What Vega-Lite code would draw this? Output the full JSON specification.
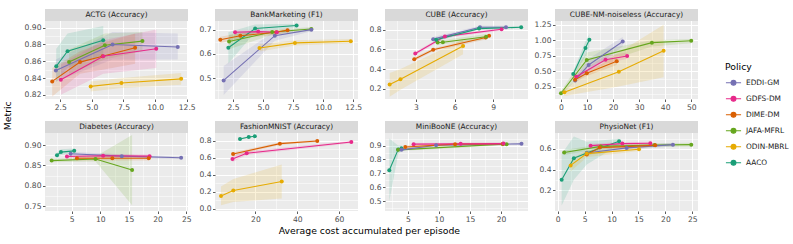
{
"$schema": "https://vega.github.io/schema/vega-lite/v6.json",
"background": "white",
"padding": {"left": 3, "top": 9, "right": 0, "bottom": 0},
"datasets": {"d": [
{"p":"ACTG","s":"AACO","x":2.19,"y":0.854,"lo":0.835,"hi":0.875},
{"p":"ACTG","s":"AACO","x":3.08,"y":0.872,"lo":0.852,"hi":0.893},
{"p":"ACTG","s":"AACO","x":5.9,"y":0.885,"lo":0.868,"hi":0.902},
{"p":"ACTG","s":"JAFA-MFRL","x":3.2,"y":0.859,"lo":0.845,"hi":0.874},
{"p":"ACTG","s":"JAFA-MFRL","x":6.03,"y":0.879,"lo":0.862,"hi":0.893},
{"p":"ACTG","s":"JAFA-MFRL","x":9.0,"y":0.884,"lo":0.872,"hi":0.895},
{"p":"ACTG","s":"EDDI-GM","x":2.16,"y":0.849,"lo":0.836,"hi":0.862},
{"p":"ACTG","s":"EDDI-GM","x":6.64,"y":0.88,"lo":0.862,"hi":0.895},
{"p":"ACTG","s":"EDDI-GM","x":11.79,"y":0.877,"lo":0.862,"hi":0.893},
{"p":"ACTG","s":"DIME-DM","x":1.87,"y":0.836,"lo":0.818,"hi":0.852},
{"p":"ACTG","s":"DIME-DM","x":4.07,"y":0.859,"lo":0.845,"hi":0.872},
{"p":"ACTG","s":"DIME-DM","x":5.85,"y":0.866,"lo":0.85,"hi":0.882},
{"p":"ACTG","s":"DIME-DM","x":8.42,"y":0.876,"lo":0.857,"hi":0.893},
{"p":"ACTG","s":"GDFS-DM","x":2.55,"y":0.838,"lo":0.82,"hi":0.856},
{"p":"ACTG","s":"GDFS-DM","x":5.9,"y":0.866,"lo":0.845,"hi":0.885},
{"p":"ACTG","s":"GDFS-DM","x":10.09,"y":0.875,"lo":0.852,"hi":0.898},
{"p":"ACTG","s":"ODIN-MBRL","x":4.91,"y":0.83,"lo":0.824,"hi":0.836},
{"p":"ACTG","s":"ODIN-MBRL","x":7.34,"y":0.834,"lo":0.828,"hi":0.84},
{"p":"ACTG","s":"ODIN-MBRL","x":12.06,"y":0.839,"lo":0.832,"hi":0.846},
{"p":"Bank","s":"AACO","x":2.11,"y":0.626,"lo":0.56,"hi":0.69},
{"p":"Bank","s":"AACO","x":4.34,"y":0.706,"lo":0.69,"hi":0.722},
{"p":"Bank","s":"AACO","x":7.79,"y":0.718,"lo":0.71,"hi":0.726},
{"p":"Bank","s":"JAFA-MFRL","x":2.17,"y":0.652,"lo":0.62,"hi":0.68},
{"p":"Bank","s":"JAFA-MFRL","x":5.76,"y":0.691,"lo":0.68,"hi":0.7},
{"p":"Bank","s":"JAFA-MFRL","x":9.02,"y":0.704,"lo":0.695,"hi":0.712},
{"p":"Bank","s":"EDDI-GM","x":1.72,"y":0.49,"lo":0.43,"hi":0.55},
{"p":"Bank","s":"EDDI-GM","x":5.98,"y":0.676,"lo":0.655,"hi":0.695},
{"p":"Bank","s":"EDDI-GM","x":9.02,"y":0.701,"lo":0.694,"hi":0.708},
{"p":"Bank","s":"DIME-DM","x":1.44,"y":0.659,"lo":0.645,"hi":0.672},
{"p":"Bank","s":"DIME-DM","x":3.11,"y":0.676,"lo":0.665,"hi":0.687},
{"p":"Bank","s":"DIME-DM","x":6.1,"y":0.69,"lo":0.68,"hi":0.698},
{"p":"Bank","s":"DIME-DM","x":7.04,"y":0.699,"lo":0.69,"hi":0.708},
{"p":"Bank","s":"GDFS-DM","x":2.67,"y":0.69,"lo":0.68,"hi":0.7},
{"p":"Bank","s":"GDFS-DM","x":4.59,"y":0.693,"lo":0.685,"hi":0.701},
{"p":"Bank","s":"GDFS-DM","x":6.15,"y":0.69,"lo":0.682,"hi":0.698},
{"p":"Bank","s":"ODIN-MBRL","x":4.7,"y":0.625,"lo":0.61,"hi":0.64},
{"p":"Bank","s":"ODIN-MBRL","x":7.65,"y":0.646,"lo":0.635,"hi":0.657},
{"p":"Bank","s":"ODIN-MBRL","x":12.3,"y":0.653,"lo":0.645,"hi":0.662},
{"p":"CUBE","s":"ODIN-MBRL","x":0.96,"y":0.242,"lo":0.12,"hi":0.36},
{"p":"CUBE","s":"ODIN-MBRL","x":1.8,"y":0.297,"lo":0.19,"hi":0.4},
{"p":"CUBE","s":"ODIN-MBRL","x":6.66,"y":0.634,"lo":0.55,"hi":0.7},
{"p":"CUBE","s":"DIME-DM","x":2.87,"y":0.498,"lo":0.48,"hi":0.52},
{"p":"CUBE","s":"DIME-DM","x":4.34,"y":0.595,"lo":0.58,"hi":0.61},
{"p":"CUBE","s":"DIME-DM","x":8.42,"y":0.72,"lo":0.7,"hi":0.74},
{"p":"CUBE","s":"DIME-DM","x":8.68,"y":0.738,"lo":0.72,"hi":0.755},
{"p":"CUBE","s":"GDFS-DM","x":2.95,"y":0.557,"lo":0.54,"hi":0.575},
{"p":"CUBE","s":"GDFS-DM","x":5.25,"y":0.731,"lo":0.715,"hi":0.745},
{"p":"CUBE","s":"GDFS-DM","x":9.65,"y":0.803,"lo":0.79,"hi":0.815},
{"p":"CUBE","s":"EDDI-GM","x":4.34,"y":0.703,"lo":0.68,"hi":0.725},
{"p":"CUBE","s":"EDDI-GM","x":7.97,"y":0.824,"lo":0.81,"hi":0.838},
{"p":"CUBE","s":"EDDI-GM","x":9.99,"y":0.824,"lo":0.81,"hi":0.838},
{"p":"CUBE","s":"JAFA-MFRL","x":4.68,"y":0.668,"lo":0.64,"hi":0.695},
{"p":"CUBE","s":"JAFA-MFRL","x":5.09,"y":0.672,"lo":0.65,"hi":0.695},
{"p":"CUBE","s":"JAFA-MFRL","x":8.45,"y":0.727,"lo":0.7,"hi":0.755},
{"p":"CUBE","s":"AACO","x":4.57,"y":0.696,"lo":0.68,"hi":0.71},
{"p":"CUBE","s":"AACO","x":7.9,"y":0.81,"lo":0.8,"hi":0.825},
{"p":"CUBE","s":"AACO","x":11.17,"y":0.824,"lo":0.815,"hi":0.835},
{"p":"CUBENM","s":"AACO","x":4.7,"y":0.454,"lo":0.4,"hi":0.5},
{"p":"CUBENM","s":"AACO","x":9.4,"y":0.874,"lo":0.75,"hi":0.98},
{"p":"CUBENM","s":"AACO","x":10.9,"y":1.008,"lo":0.88,"hi":1.1},
{"p":"CUBENM","s":"JAFA-MFRL","x":0.0,"y":0.143,"lo":0.1,"hi":0.18},
{"p":"CUBENM","s":"JAFA-MFRL","x":9.9,"y":0.68,"lo":0.55,"hi":0.8},
{"p":"CUBENM","s":"JAFA-MFRL","x":34.9,"y":0.96,"lo":0.9,"hi":1.0},
{"p":"CUBENM","s":"JAFA-MFRL","x":50,"y":0.99,"lo":0.95,"hi":1.02},
{"p":"CUBENM","s":"EDDI-GM","x":5.4,"y":0.347,"lo":0.3,"hi":0.4},
{"p":"CUBENM","s":"EDDI-GM","x":10.6,"y":0.6,"lo":0.5,"hi":0.7},
{"p":"CUBENM","s":"EDDI-GM","x":23.7,"y":0.98,"lo":0.9,"hi":1.05},
{"p":"CUBENM","s":"GDFS-DM","x":5.8,"y":0.41,"lo":0.37,"hi":0.45},
{"p":"CUBENM","s":"GDFS-DM","x":17.1,"y":0.685,"lo":0.62,"hi":0.75},
{"p":"CUBENM","s":"GDFS-DM","x":25.4,"y":0.745,"lo":0.7,"hi":0.8},
{"p":"CUBENM","s":"DIME-DM","x":5.4,"y":0.36,"lo":0.32,"hi":0.4},
{"p":"CUBENM","s":"DIME-DM","x":9.9,"y":0.465,"lo":0.42,"hi":0.52},
{"p":"CUBENM","s":"DIME-DM","x":21.4,"y":0.66,"lo":0.6,"hi":0.72},
{"p":"CUBENM","s":"ODIN-MBRL","x":1.3,"y":0.159,"lo":0.1,"hi":0.22},
{"p":"CUBENM","s":"ODIN-MBRL","x":22.2,"y":0.49,"lo":0.25,"hi":0.8},
{"p":"CUBENM","s":"ODIN-MBRL","x":39.4,"y":0.83,"lo":0.4,"hi":1.25},
{"p":"Diab","s":"AACO","x":2.45,"y":0.875,"lo":0.868,"hi":0.882},
{"p":"Diab","s":"AACO","x":3.14,"y":0.883,"lo":0.876,"hi":0.89},
{"p":"Diab","s":"AACO","x":5.46,"y":0.886,"lo":0.88,"hi":0.892},
{"p":"Diab","s":"JAFA-MFRL","x":1.52,"y":0.862,"lo":0.858,"hi":0.866},
{"p":"Diab","s":"JAFA-MFRL","x":9.17,"y":0.866,"lo":0.86,"hi":0.872},
{"p":"Diab","s":"JAFA-MFRL","x":15.55,"y":0.839,"lo":0.752,"hi":0.925},
{"p":"Diab","s":"EDDI-GM","x":4.83,"y":0.879,"lo":0.874,"hi":0.884},
{"p":"Diab","s":"EDDI-GM","x":13.75,"y":0.873,"lo":0.869,"hi":0.877},
{"p":"Diab","s":"EDDI-GM","x":24.1,"y":0.869,"lo":0.866,"hi":0.872},
{"p":"Diab","s":"GDFS-DM","x":4.19,"y":0.872,"lo":0.868,"hi":0.876},
{"p":"Diab","s":"GDFS-DM","x":10.5,"y":0.874,"lo":0.869,"hi":0.879},
{"p":"Diab","s":"GDFS-DM","x":18.6,"y":0.873,"lo":0.869,"hi":0.877},
{"p":"Diab","s":"DIME-DM","x":5.93,"y":0.868,"lo":0.862,"hi":0.874},
{"p":"Diab","s":"DIME-DM","x":12.1,"y":0.868,"lo":0.862,"hi":0.874},
{"p":"Diab","s":"DIME-DM","x":18.45,"y":0.868,"lo":0.862,"hi":0.874},
{"p":"Fash","s":"AACO","x":12.6,"y":0.82,"lo":0.81,"hi":0.83},
{"p":"Fash","s":"AACO","x":16.8,"y":0.843,"lo":0.835,"hi":0.85},
{"p":"Fash","s":"AACO","x":19.7,"y":0.851,"lo":0.845,"hi":0.857},
{"p":"Fash","s":"DIME-DM","x":9.3,"y":0.644,"lo":0.62,"hi":0.665},
{"p":"Fash","s":"DIME-DM","x":31.7,"y":0.765,"lo":0.75,"hi":0.78},
{"p":"Fash","s":"DIME-DM","x":49.6,"y":0.796,"lo":0.785,"hi":0.807},
{"p":"Fash","s":"GDFS-DM","x":9.0,"y":0.585,"lo":0.55,"hi":0.62},
{"p":"Fash","s":"GDFS-DM","x":15.8,"y":0.652,"lo":0.63,"hi":0.675},
{"p":"Fash","s":"GDFS-DM","x":65.9,"y":0.784,"lo":0.77,"hi":0.8},
{"p":"Fash","s":"ODIN-MBRL","x":3.5,"y":0.148,"lo":0.04,"hi":0.26},
{"p":"Fash","s":"ODIN-MBRL","x":9.4,"y":0.215,"lo":0.08,"hi":0.35},
{"p":"Fash","s":"ODIN-MBRL","x":32.6,"y":0.32,"lo":0.12,"hi":0.52},
{"p":"Mini","s":"AACO","x":2.0,"y":0.722,"lo":0.5,"hi":0.95},
{"p":"Mini","s":"AACO","x":3.43,"y":0.871,"lo":0.84,"hi":0.9},
{"p":"Mini","s":"AACO","x":3.97,"y":0.88,"lo":0.86,"hi":0.9},
{"p":"Mini","s":"JAFA-MFRL","x":3.43,"y":0.869,"lo":0.86,"hi":0.88},
{"p":"Mini","s":"JAFA-MFRL","x":20.3,"y":0.91,"lo":0.9,"hi":0.92},
{"p":"Mini","s":"JAFA-MFRL","x":20.9,"y":0.91,"lo":0.9,"hi":0.92},
{"p":"Mini","s":"EDDI-GM","x":3.97,"y":0.869,"lo":0.86,"hi":0.88},
{"p":"Mini","s":"EDDI-GM","x":9.55,"y":0.902,"lo":0.895,"hi":0.91},
{"p":"Mini","s":"EDDI-GM","x":23.3,"y":0.912,"lo":0.905,"hi":0.92},
{"p":"Mini","s":"DIME-DM","x":4.57,"y":0.89,"lo":0.88,"hi":0.9},
{"p":"Mini","s":"DIME-DM","x":12.6,"y":0.91,"lo":0.9,"hi":0.92},
{"p":"Mini","s":"DIME-DM","x":20.3,"y":0.912,"lo":0.905,"hi":0.92},
{"p":"Mini","s":"GDFS-DM","x":5.92,"y":0.91,"lo":0.9,"hi":0.92},
{"p":"Mini","s":"GDFS-DM","x":13.5,"y":0.912,"lo":0.905,"hi":0.92},
{"p":"Mini","s":"GDFS-DM","x":20.4,"y":0.914,"lo":0.905,"hi":0.922},
{"p":"Phys","s":"AACO","x":0.74,"y":0.3,"lo":0.05,"hi":0.55},
{"p":"Phys","s":"AACO","x":3.0,"y":0.51,"lo":0.3,"hi":0.72},
{"p":"Phys","s":"AACO","x":5.4,"y":0.56,"lo":0.45,"hi":0.67},
{"p":"Phys","s":"AACO","x":11.4,"y":0.674,"lo":0.64,"hi":0.7},
{"p":"Phys","s":"JAFA-MFRL","x":1.2,"y":0.565,"lo":0.54,"hi":0.59},
{"p":"Phys","s":"JAFA-MFRL","x":8.0,"y":0.625,"lo":0.605,"hi":0.645},
{"p":"Phys","s":"JAFA-MFRL","x":18.0,"y":0.638,"lo":0.62,"hi":0.655},
{"p":"Phys","s":"JAFA-MFRL","x":24.8,"y":0.642,"lo":0.625,"hi":0.66},
{"p":"Phys","s":"GDFS-DM","x":6.1,"y":0.632,"lo":0.615,"hi":0.65},
{"p":"Phys","s":"GDFS-DM","x":12.0,"y":0.652,"lo":0.635,"hi":0.668},
{"p":"Phys","s":"GDFS-DM","x":17.2,"y":0.655,"lo":0.64,"hi":0.67},
{"p":"Phys","s":"EDDI-GM","x":5.4,"y":0.56,"lo":0.54,"hi":0.58},
{"p":"Phys","s":"EDDI-GM","x":12.8,"y":0.61,"lo":0.59,"hi":0.63},
{"p":"Phys","s":"EDDI-GM","x":21.4,"y":0.642,"lo":0.625,"hi":0.66},
{"p":"Phys","s":"DIME-DM","x":5.4,"y":0.545,"lo":0.525,"hi":0.565},
{"p":"Phys","s":"DIME-DM","x":7.8,"y":0.613,"lo":0.595,"hi":0.63},
{"p":"Phys","s":"DIME-DM","x":18.1,"y":0.635,"lo":0.62,"hi":0.65},
{"p":"Phys","s":"ODIN-MBRL","x":2.4,"y":0.44,"lo":0.38,"hi":0.5},
{"p":"Phys","s":"ODIN-MBRL","x":5.4,"y":0.555,"lo":0.52,"hi":0.59},
{"p":"Phys","s":"ODIN-MBRL","x":15.1,"y":0.597,"lo":0.58,"hi":0.615}
]},
"title": {"text": "Average cost accumulated per episode", "orient": "bottom", "anchor": "middle", "dx": -27, "offset": 4},
"vconcat": [{
"title": {"text": "Metric", "orient": "left", "anchor": "middle", "offset": 11},
"columns": 4,
"bounds": "flush",
"spacing": {"row": 22, "column": 27},
"concat": [
{"width": 143, "height": 90, "resolve": {"axis": {"x": "independent", "y": "independent"}}, "layer": [
 {"data": {"name": "d"}, "transform": [{"filter": "datum.p === 'ACTG'"}],
  "encoding": {
   "x": {"field": "x", "type": "quantitative", "title": null, "scale": {"domain": [1.3, 12.6], "nice": false, "zero": false}, "axis": {"values": [2.5, 5, 7.5, 10, 12.5], "format": ".1f", "labelOverlap": false}},
   "y": {"field": "y", "type": "quantitative", "title": null, "scale": {"domain": [0.815, 0.9223], "nice": false, "zero": false}, "axis": {"values": [0.82, 0.84, 0.86, 0.88, 0.9], "format": ".2f", "labelOverlap": false}},
   "color": {"field": "s", "type": "nominal", "title": "Policy", "scale": {"domain": ["EDDI-GM","GDFS-DM","DIME-DM","JAFA-MFRL","ODIN-MBRL","AACO"], "range": ["#7570B3","#E7298A","#D95F02","#66A61E","#E6AB02","#1B9E77"]}, "legend": {"orient": "none", "legendX": 680, "legendY": 54, "symbolType": "M-1,0H1M-0.32,0A0.32,0.32,0,1,0,0.32,0A0.32,0.32,0,1,0,-0.32,0", "encode": {"symbols": {"update": {"fill": {"scale": "color", "field": "value"}, "stroke": {"scale": "color", "field": "value"}, "opacity": {"value": 1}, "fillOpacity": {"value": 1}}}}}}
  },
  "layer": [
   {"mark": {"type": "area", "opacity": 0.15}, "encoding": {"y": {"field": "lo", "type": "quantitative", "title": null, "scale": {"domain": [0.815, 0.9223], "nice": false, "zero": false}, "axis": {"values": [0.82, 0.84, 0.86, 0.88, 0.9], "format": ".2f", "labelOverlap": false}}, "y2": {"field": "hi"}}},
   {"mark": {"type": "line", "strokeWidth": 1.1}},
   {"mark": {"type": "point", "filled": true, "size": 16, "opacity": 1}}
  ]},
 {"data": {"name": "d"}, "transform": [{"filter": "datum.p === 'ACTG'"}], "mark": {"type": "point", "opacity": 0},
  "encoding": {
   "x": {"field": "x", "type": "quantitative", "title": null, "axis": {"values": [3.75, 6.25, 8.75, 11.25], "grid": true, "gridWidth": 0.5, "labels": false, "ticks": false, "domain": false}},
   "y": {"field": "y", "type": "quantitative", "title": null, "axis": {"values": [0.83, 0.85, 0.87, 0.89], "grid": true, "gridWidth": 0.5, "labels": false, "ticks": false, "domain": false}}}},
 {"data": {"values": [{"t": "ACTG (Accuracy)"}]}, "mark": {"type": "rect", "fill": "#D9D9D9"}, "encoding": {"y": {"datum": 0.908, "axis": null}, "y2": {"datum": 0.9223}}},
 {"data": {"values": [{"t": "ACTG (Accuracy)"}]}, "mark": {"type": "text", "fontSize": 7.4, "color": "#1A1A1A", "baseline": "middle"}, "encoding": {"text": {"field": "t"}, "y": {"datum": 0.9152, "axis": null}}}
]},
{"width": 143, "height": 90, "resolve": {"axis": {"x": "independent", "y": "independent"}}, "layer": [
 {"data": {"name": "d"}, "transform": [{"filter": "datum.p === 'Bank'"}],
  "encoding": {
   "x": {"field": "x", "type": "quantitative", "title": null, "scale": {"domain": [1.0, 12.9], "nice": false, "zero": false}, "axis": {"values": [2.5, 5, 7.5, 10, 12.5], "format": ".1f", "labelOverlap": false}},
   "y": {"field": "y", "type": "quantitative", "title": null, "scale": {"domain": [0.413, 0.7868], "nice": false, "zero": false}, "axis": {"values": [0.5, 0.6, 0.7], "format": ".1f", "labelOverlap": false}},
   "color": {"field": "s", "type": "nominal", "title": "Policy", "scale": {"domain": ["EDDI-GM","GDFS-DM","DIME-DM","JAFA-MFRL","ODIN-MBRL","AACO"], "range": ["#7570B3","#E7298A","#D95F02","#66A61E","#E6AB02","#1B9E77"]}, "legend": {"orient": "none", "legendX": 680, "legendY": 54, "symbolType": "M-1,0H1M-0.32,0A0.32,0.32,0,1,0,0.32,0A0.32,0.32,0,1,0,-0.32,0", "encode": {"symbols": {"update": {"fill": {"scale": "color", "field": "value"}, "stroke": {"scale": "color", "field": "value"}, "opacity": {"value": 1}, "fillOpacity": {"value": 1}}}}}}
  },
  "layer": [
   {"mark": {"type": "area", "opacity": 0.15}, "encoding": {"y": {"field": "lo", "type": "quantitative", "title": null, "scale": {"domain": [0.413, 0.7868], "nice": false, "zero": false}, "axis": {"values": [0.5, 0.6, 0.7], "format": ".1f", "labelOverlap": false}}, "y2": {"field": "hi"}}},
   {"mark": {"type": "line", "strokeWidth": 1.1}},
   {"mark": {"type": "point", "filled": true, "size": 16, "opacity": 1}}
  ]},
 {"data": {"name": "d"}, "transform": [{"filter": "datum.p === 'Bank'"}], "mark": {"type": "point", "opacity": 0},
  "encoding": {
   "x": {"field": "x", "type": "quantitative", "title": null, "axis": {"values": [1.25, 3.75, 6.25, 8.75, 11.25], "grid": true, "gridWidth": 0.5, "labels": false, "ticks": false, "domain": false}},
   "y": {"field": "y", "type": "quantitative", "title": null, "axis": {"values": [0.45, 0.55, 0.65], "grid": true, "gridWidth": 0.5, "labels": false, "ticks": false, "domain": false}}}},
 {"data": {"values": [{"t": "BankMarketing (F1)"}]}, "mark": {"type": "rect", "fill": "#D9D9D9"}, "encoding": {"y": {"datum": 0.737, "axis": null}, "y2": {"datum": 0.7868}}},
 {"data": {"values": [{"t": "BankMarketing (F1)"}]}, "mark": {"type": "text", "fontSize": 7.4, "color": "#1A1A1A", "baseline": "middle"}, "encoding": {"text": {"field": "t"}, "y": {"datum": 0.7619, "axis": null}}}
]},
{"width": 143, "height": 90, "resolve": {"axis": {"x": "independent", "y": "independent"}}, "layer": [
 {"data": {"name": "d"}, "transform": [{"filter": "datum.p === 'CUBE'"}],
  "encoding": {
   "x": {"field": "x", "type": "quantitative", "title": null, "scale": {"domain": [0.6, 11.7], "nice": false, "zero": false}, "axis": {"values": [3, 6, 9], "format": "d", "labelOverlap": false}},
   "y": {"field": "y", "type": "quantitative", "title": null, "scale": {"domain": [0.096, 1.0087], "nice": false, "zero": false}, "axis": {"values": [0.2, 0.4, 0.6, 0.8], "format": ".1f", "labelOverlap": false}},
   "color": {"field": "s", "type": "nominal", "title": "Policy", "scale": {"domain": ["EDDI-GM","GDFS-DM","DIME-DM","JAFA-MFRL","ODIN-MBRL","AACO"], "range": ["#7570B3","#E7298A","#D95F02","#66A61E","#E6AB02","#1B9E77"]}, "legend": {"orient": "none", "legendX": 680, "legendY": 54, "symbolType": "M-1,0H1M-0.32,0A0.32,0.32,0,1,0,0.32,0A0.32,0.32,0,1,0,-0.32,0", "encode": {"symbols": {"update": {"fill": {"scale": "color", "field": "value"}, "stroke": {"scale": "color", "field": "value"}, "opacity": {"value": 1}, "fillOpacity": {"value": 1}}}}}}
  },
  "layer": [
   {"mark": {"type": "area", "opacity": 0.15}, "encoding": {"y": {"field": "lo", "type": "quantitative", "title": null, "scale": {"domain": [0.096, 1.0087], "nice": false, "zero": false}, "axis": {"values": [0.2, 0.4, 0.6, 0.8], "format": ".1f", "labelOverlap": false}}, "y2": {"field": "hi"}}},
   {"mark": {"type": "line", "strokeWidth": 1.1}},
   {"mark": {"type": "point", "filled": true, "size": 16, "opacity": 1}}
  ]},
 {"data": {"name": "d"}, "transform": [{"filter": "datum.p === 'CUBE'"}], "mark": {"type": "point", "opacity": 0},
  "encoding": {
   "x": {"field": "x", "type": "quantitative", "title": null, "axis": {"values": [1.5, 4.5, 7.5, 10.5], "grid": true, "gridWidth": 0.5, "labels": false, "ticks": false, "domain": false}},
   "y": {"field": "y", "type": "quantitative", "title": null, "axis": {"values": [0.1, 0.3, 0.5, 0.7], "grid": true, "gridWidth": 0.5, "labels": false, "ticks": false, "domain": false}}}},
 {"data": {"values": [{"t": "CUBE (Accuracy)"}]}, "mark": {"type": "rect", "fill": "#D9D9D9"}, "encoding": {"y": {"datum": 0.887, "axis": null}, "y2": {"datum": 1.0087}}},
 {"data": {"values": [{"t": "CUBE (Accuracy)"}]}, "mark": {"type": "text", "fontSize": 7.4, "color": "#1A1A1A", "baseline": "middle"}, "encoding": {"text": {"field": "t"}, "y": {"datum": 0.9478, "axis": null}}}
]},
{"width": 143, "height": 90, "resolve": {"axis": {"x": "independent", "y": "independent"}}, "layer": [
 {"data": {"name": "d"}, "transform": [{"filter": "datum.p === 'CUBENM'"}],
  "encoding": {
   "x": {"field": "x", "type": "quantitative", "title": null, "scale": {"domain": [-2.3, 52.6], "nice": false, "zero": false}, "axis": {"values": [0, 10, 20, 30, 40, 50], "format": "d", "labelOverlap": false}},
   "y": {"field": "y", "type": "quantitative", "title": null, "scale": {"domain": [0.05, 1.5038], "nice": false, "zero": false}, "axis": {"values": [0.25, 0.5, 0.75, 1.0, 1.25], "format": ".2f", "labelOverlap": false}},
   "color": {"field": "s", "type": "nominal", "title": "Policy", "scale": {"domain": ["EDDI-GM","GDFS-DM","DIME-DM","JAFA-MFRL","ODIN-MBRL","AACO"], "range": ["#7570B3","#E7298A","#D95F02","#66A61E","#E6AB02","#1B9E77"]}, "legend": {"orient": "none", "legendX": 680, "legendY": 54, "symbolType": "M-1,0H1M-0.32,0A0.32,0.32,0,1,0,0.32,0A0.32,0.32,0,1,0,-0.32,0", "encode": {"symbols": {"update": {"fill": {"scale": "color", "field": "value"}, "stroke": {"scale": "color", "field": "value"}, "opacity": {"value": 1}, "fillOpacity": {"value": 1}}}}}}
  },
  "layer": [
   {"mark": {"type": "area", "opacity": 0.15}, "encoding": {"y": {"field": "lo", "type": "quantitative", "title": null, "scale": {"domain": [0.05, 1.5038], "nice": false, "zero": false}, "axis": {"values": [0.25, 0.5, 0.75, 1.0, 1.25], "format": ".2f", "labelOverlap": false}}, "y2": {"field": "hi"}}},
   {"mark": {"type": "line", "strokeWidth": 1.1}},
   {"mark": {"type": "point", "filled": true, "size": 16, "opacity": 1}}
  ]},
 {"data": {"name": "d"}, "transform": [{"filter": "datum.p === 'CUBENM'"}], "mark": {"type": "point", "opacity": 0},
  "encoding": {
   "x": {"field": "x", "type": "quantitative", "title": null, "axis": {"values": [5, 15, 25, 35, 45], "grid": true, "gridWidth": 0.5, "labels": false, "ticks": false, "domain": false}},
   "y": {"field": "y", "type": "quantitative", "title": null, "axis": {"values": [0.125, 0.375, 0.625, 0.875, 1.125], "grid": true, "gridWidth": 0.5, "labels": false, "ticks": false, "domain": false}}}},
 {"data": {"values": [{"t": "CUBE-NM-noiseless (Accuracy)"}]}, "mark": {"type": "rect", "fill": "#D9D9D9"}, "encoding": {"y": {"datum": 1.31, "axis": null}, "y2": {"datum": 1.5038}}},
 {"data": {"values": [{"t": "CUBE-NM-noiseless (Accuracy)"}]}, "mark": {"type": "text", "fontSize": 7.4, "color": "#1A1A1A", "baseline": "middle"}, "encoding": {"text": {"field": "t"}, "y": {"datum": 1.4069, "axis": null}}}
]},
{"width": 143, "height": 90, "resolve": {"axis": {"x": "independent", "y": "independent"}}, "layer": [
 {"data": {"name": "d"}, "transform": [{"filter": "datum.p === 'Diab'"}],
  "encoding": {
   "x": {"field": "x", "type": "quantitative", "title": null, "scale": {"domain": [0.36, 25.3], "nice": false, "zero": false}, "axis": {"values": [5, 10, 15, 20, 25], "format": "d", "labelOverlap": false}},
   "y": {"field": "y", "type": "quantitative", "title": null, "scale": {"domain": [0.738, 0.9595], "nice": false, "zero": false}, "axis": {"values": [0.75, 0.8, 0.85, 0.9], "format": ".2f", "labelOverlap": false}},
   "color": {"field": "s", "type": "nominal", "title": "Policy", "scale": {"domain": ["EDDI-GM","GDFS-DM","DIME-DM","JAFA-MFRL","ODIN-MBRL","AACO"], "range": ["#7570B3","#E7298A","#D95F02","#66A61E","#E6AB02","#1B9E77"]}, "legend": {"orient": "none", "legendX": 680, "legendY": 54, "symbolType": "M-1,0H1M-0.32,0A0.32,0.32,0,1,0,0.32,0A0.32,0.32,0,1,0,-0.32,0", "encode": {"symbols": {"update": {"fill": {"scale": "color", "field": "value"}, "stroke": {"scale": "color", "field": "value"}, "opacity": {"value": 1}, "fillOpacity": {"value": 1}}}}}}
  },
  "layer": [
   {"mark": {"type": "area", "opacity": 0.15}, "encoding": {"y": {"field": "lo", "type": "quantitative", "title": null, "scale": {"domain": [0.738, 0.9595], "nice": false, "zero": false}, "axis": {"values": [0.75, 0.8, 0.85, 0.9], "format": ".2f", "labelOverlap": false}}, "y2": {"field": "hi"}}},
   {"mark": {"type": "line", "strokeWidth": 1.1}},
   {"mark": {"type": "point", "filled": true, "size": 16, "opacity": 1}}
  ]},
 {"data": {"name": "d"}, "transform": [{"filter": "datum.p === 'Diab'"}], "mark": {"type": "point", "opacity": 0},
  "encoding": {
   "x": {"field": "x", "type": "quantitative", "title": null, "axis": {"values": [2.5, 7.5, 12.5, 17.5, 22.5], "grid": true, "gridWidth": 0.5, "labels": false, "ticks": false, "domain": false}},
   "y": {"field": "y", "type": "quantitative", "title": null, "axis": {"values": [0.775, 0.825, 0.875], "grid": true, "gridWidth": 0.5, "labels": false, "ticks": false, "domain": false}}}},
 {"data": {"values": [{"t": "Diabetes (Accuracy)"}]}, "mark": {"type": "rect", "fill": "#D9D9D9"}, "encoding": {"y": {"datum": 0.93, "axis": null}, "y2": {"datum": 0.9595}}},
 {"data": {"values": [{"t": "Diabetes (Accuracy)"}]}, "mark": {"type": "text", "fontSize": 7.4, "color": "#1A1A1A", "baseline": "middle"}, "encoding": {"text": {"field": "t"}, "y": {"datum": 0.9448, "axis": null}}}
]},
{"width": 143, "height": 90, "resolve": {"axis": {"x": "independent", "y": "independent"}}, "layer": [
 {"data": {"name": "d"}, "transform": [{"filter": "datum.p === 'Fash'"}],
  "encoding": {
   "x": {"field": "x", "type": "quantitative", "title": null, "scale": {"domain": [0.64, 69.1], "nice": false, "zero": false}, "axis": {"values": [20, 40, 60], "format": "d", "labelOverlap": false}},
   "y": {"field": "y", "type": "quantitative", "title": null, "scale": {"domain": [-0.027, 1.0311], "nice": false, "zero": false}, "axis": {"values": [0, 0.2, 0.4, 0.6, 0.8], "format": ".1f", "labelOverlap": false}},
   "color": {"field": "s", "type": "nominal", "title": "Policy", "scale": {"domain": ["EDDI-GM","GDFS-DM","DIME-DM","JAFA-MFRL","ODIN-MBRL","AACO"], "range": ["#7570B3","#E7298A","#D95F02","#66A61E","#E6AB02","#1B9E77"]}, "legend": {"orient": "none", "legendX": 680, "legendY": 54, "symbolType": "M-1,0H1M-0.32,0A0.32,0.32,0,1,0,0.32,0A0.32,0.32,0,1,0,-0.32,0", "encode": {"symbols": {"update": {"fill": {"scale": "color", "field": "value"}, "stroke": {"scale": "color", "field": "value"}, "opacity": {"value": 1}, "fillOpacity": {"value": 1}}}}}}
  },
  "layer": [
   {"mark": {"type": "area", "opacity": 0.15}, "encoding": {"y": {"field": "lo", "type": "quantitative", "title": null, "scale": {"domain": [-0.027, 1.0311], "nice": false, "zero": false}, "axis": {"values": [0, 0.2, 0.4, 0.6, 0.8], "format": ".1f", "labelOverlap": false}}, "y2": {"field": "hi"}}},
   {"mark": {"type": "line", "strokeWidth": 1.1}},
   {"mark": {"type": "point", "filled": true, "size": 16, "opacity": 1}}
  ]},
 {"data": {"name": "d"}, "transform": [{"filter": "datum.p === 'Fash'"}], "mark": {"type": "point", "opacity": 0},
  "encoding": {
   "x": {"field": "x", "type": "quantitative", "title": null, "axis": {"values": [10, 30, 50], "grid": true, "gridWidth": 0.5, "labels": false, "ticks": false, "domain": false}},
   "y": {"field": "y", "type": "quantitative", "title": null, "axis": {"values": [0.1, 0.3, 0.5, 0.7], "grid": true, "gridWidth": 0.5, "labels": false, "ticks": false, "domain": false}}}},
 {"data": {"values": [{"t": "FashionMNIST (Accuracy)"}]}, "mark": {"type": "rect", "fill": "#D9D9D9"}, "encoding": {"y": {"datum": 0.89, "axis": null}, "y2": {"datum": 1.0311}}},
 {"data": {"values": [{"t": "FashionMNIST (Accuracy)"}]}, "mark": {"type": "text", "fontSize": 7.4, "color": "#1A1A1A", "baseline": "middle"}, "encoding": {"text": {"field": "t"}, "y": {"datum": 0.9606, "axis": null}}}
]},
{"width": 143, "height": 90, "resolve": {"axis": {"x": "independent", "y": "independent"}}, "layer": [
 {"data": {"name": "d"}, "transform": [{"filter": "datum.p === 'Mini'"}],
  "encoding": {
   "x": {"field": "x", "type": "quantitative", "title": null, "scale": {"domain": [1.31, 24.35], "nice": false, "zero": false}, "axis": {"values": [5, 10, 15, 20], "format": "d", "labelOverlap": false}},
   "y": {"field": "y", "type": "quantitative", "title": null, "scale": {"domain": [0.43, 1.0762], "nice": false, "zero": false}, "axis": {"values": [0.5, 0.6, 0.7, 0.8, 0.9], "format": ".1f", "labelOverlap": false}},
   "color": {"field": "s", "type": "nominal", "title": "Policy", "scale": {"domain": ["EDDI-GM","GDFS-DM","DIME-DM","JAFA-MFRL","ODIN-MBRL","AACO"], "range": ["#7570B3","#E7298A","#D95F02","#66A61E","#E6AB02","#1B9E77"]}, "legend": {"orient": "none", "legendX": 680, "legendY": 54, "symbolType": "M-1,0H1M-0.32,0A0.32,0.32,0,1,0,0.32,0A0.32,0.32,0,1,0,-0.32,0", "encode": {"symbols": {"update": {"fill": {"scale": "color", "field": "value"}, "stroke": {"scale": "color", "field": "value"}, "opacity": {"value": 1}, "fillOpacity": {"value": 1}}}}}}
  },
  "layer": [
   {"mark": {"type": "area", "opacity": 0.15}, "encoding": {"y": {"field": "lo", "type": "quantitative", "title": null, "scale": {"domain": [0.43, 1.0762], "nice": false, "zero": false}, "axis": {"values": [0.5, 0.6, 0.7, 0.8, 0.9], "format": ".1f", "labelOverlap": false}}, "y2": {"field": "hi"}}},
   {"mark": {"type": "line", "strokeWidth": 1.1}},
   {"mark": {"type": "point", "filled": true, "size": 16, "opacity": 1}}
  ]},
 {"data": {"name": "d"}, "transform": [{"filter": "datum.p === 'Mini'"}], "mark": {"type": "point", "opacity": 0},
  "encoding": {
   "x": {"field": "x", "type": "quantitative", "title": null, "axis": {"values": [2.5, 7.5, 12.5, 17.5, 22.5], "grid": true, "gridWidth": 0.5, "labels": false, "ticks": false, "domain": false}},
   "y": {"field": "y", "type": "quantitative", "title": null, "axis": {"values": [0.45, 0.55, 0.65, 0.75, 0.85, 0.95], "grid": true, "gridWidth": 0.5, "labels": false, "ticks": false, "domain": false}}}},
 {"data": {"values": [{"t": "MiniBooNE (Accuracy)"}]}, "mark": {"type": "rect", "fill": "#D9D9D9"}, "encoding": {"y": {"datum": 0.99, "axis": null}, "y2": {"datum": 1.0762}}},
 {"data": {"values": [{"t": "MiniBooNE (Accuracy)"}]}, "mark": {"type": "text", "fontSize": 7.4, "color": "#1A1A1A", "baseline": "middle"}, "encoding": {"text": {"field": "t"}, "y": {"datum": 1.0331, "axis": null}}}
]},
{"width": 143, "height": 90, "resolve": {"axis": {"x": "independent", "y": "independent"}}, "layer": [
 {"data": {"name": "d"}, "transform": [{"filter": "datum.p === 'Phys'"}],
  "encoding": {
   "x": {"field": "x", "type": "quantitative", "title": null, "scale": {"domain": [-0.5, 26.05], "nice": false, "zero": false}, "axis": {"values": [0, 5, 10, 15, 20, 25], "format": "d", "labelOverlap": false}},
   "y": {"field": "y", "type": "quantitative", "title": null, "scale": {"domain": [-0.003, 0.8716], "nice": false, "zero": false}, "axis": {"values": [0.2, 0.4, 0.6], "format": ".1f", "labelOverlap": false}},
   "color": {"field": "s", "type": "nominal", "title": "Policy", "scale": {"domain": ["EDDI-GM","GDFS-DM","DIME-DM","JAFA-MFRL","ODIN-MBRL","AACO"], "range": ["#7570B3","#E7298A","#D95F02","#66A61E","#E6AB02","#1B9E77"]}, "legend": {"orient": "none", "legendX": 680, "legendY": 54, "symbolType": "M-1,0H1M-0.32,0A0.32,0.32,0,1,0,0.32,0A0.32,0.32,0,1,0,-0.32,0", "encode": {"symbols": {"update": {"fill": {"scale": "color", "field": "value"}, "stroke": {"scale": "color", "field": "value"}, "opacity": {"value": 1}, "fillOpacity": {"value": 1}}}}}}
  },
  "layer": [
   {"mark": {"type": "area", "opacity": 0.15}, "encoding": {"y": {"field": "lo", "type": "quantitative", "title": null, "scale": {"domain": [-0.003, 0.8716], "nice": false, "zero": false}, "axis": {"values": [0.2, 0.4, 0.6], "format": ".1f", "labelOverlap": false}}, "y2": {"field": "hi"}}},
   {"mark": {"type": "line", "strokeWidth": 1.1}},
   {"mark": {"type": "point", "filled": true, "size": 16, "opacity": 1}}
  ]},
 {"data": {"name": "d"}, "transform": [{"filter": "datum.p === 'Phys'"}], "mark": {"type": "point", "opacity": 0},
  "encoding": {
   "x": {"field": "x", "type": "quantitative", "title": null, "axis": {"values": [2.5, 7.5, 12.5, 17.5, 22.5], "grid": true, "gridWidth": 0.5, "labels": false, "ticks": false, "domain": false}},
   "y": {"field": "y", "type": "quantitative", "title": null, "axis": {"values": [0.1, 0.3, 0.5, 0.7], "grid": true, "gridWidth": 0.5, "labels": false, "ticks": false, "domain": false}}}},
 {"data": {"values": [{"t": "PhysioNet (F1)"}]}, "mark": {"type": "rect", "fill": "#D9D9D9"}, "encoding": {"y": {"datum": 0.755, "axis": null}, "y2": {"datum": 0.8716}}},
 {"data": {"values": [{"t": "PhysioNet (F1)"}]}, "mark": {"type": "text", "fontSize": 7.4, "color": "#1A1A1A", "baseline": "middle"}, "encoding": {"text": {"field": "t"}, "y": {"datum": 0.8133, "axis": null}}}
]}
]
}],
"config": {
 "font": "DejaVu Sans",
 "view": {"fill": "#EBEBEB", "stroke": null},
 "axis": {"domain": false, "tickColor": "#333333", "tickSize": 2.5, "tickWidth": 0.8, "labelFontSize": 7.6, "labelColor": "#4D4D4D", "labelPadding": 1.5, "gridColor": "#FFFFFF", "gridWidth": 1.1, "labelFlush": false, "labelOverlap": false},
 "title": {"fontSize": 9.3, "fontWeight": "normal", "color": "#000000"},
 "legend": {"titleFontSize": 9.3, "titleFontWeight": "normal", "titleColor": "#000000", "labelFontSize": 7.4, "labelColor": "#1A1A1A", "symbolSize": 230, "symbolStrokeWidth": 1.1, "rowPadding": 2, "labelOffset": 4, "titlePadding": 2}
}
}
